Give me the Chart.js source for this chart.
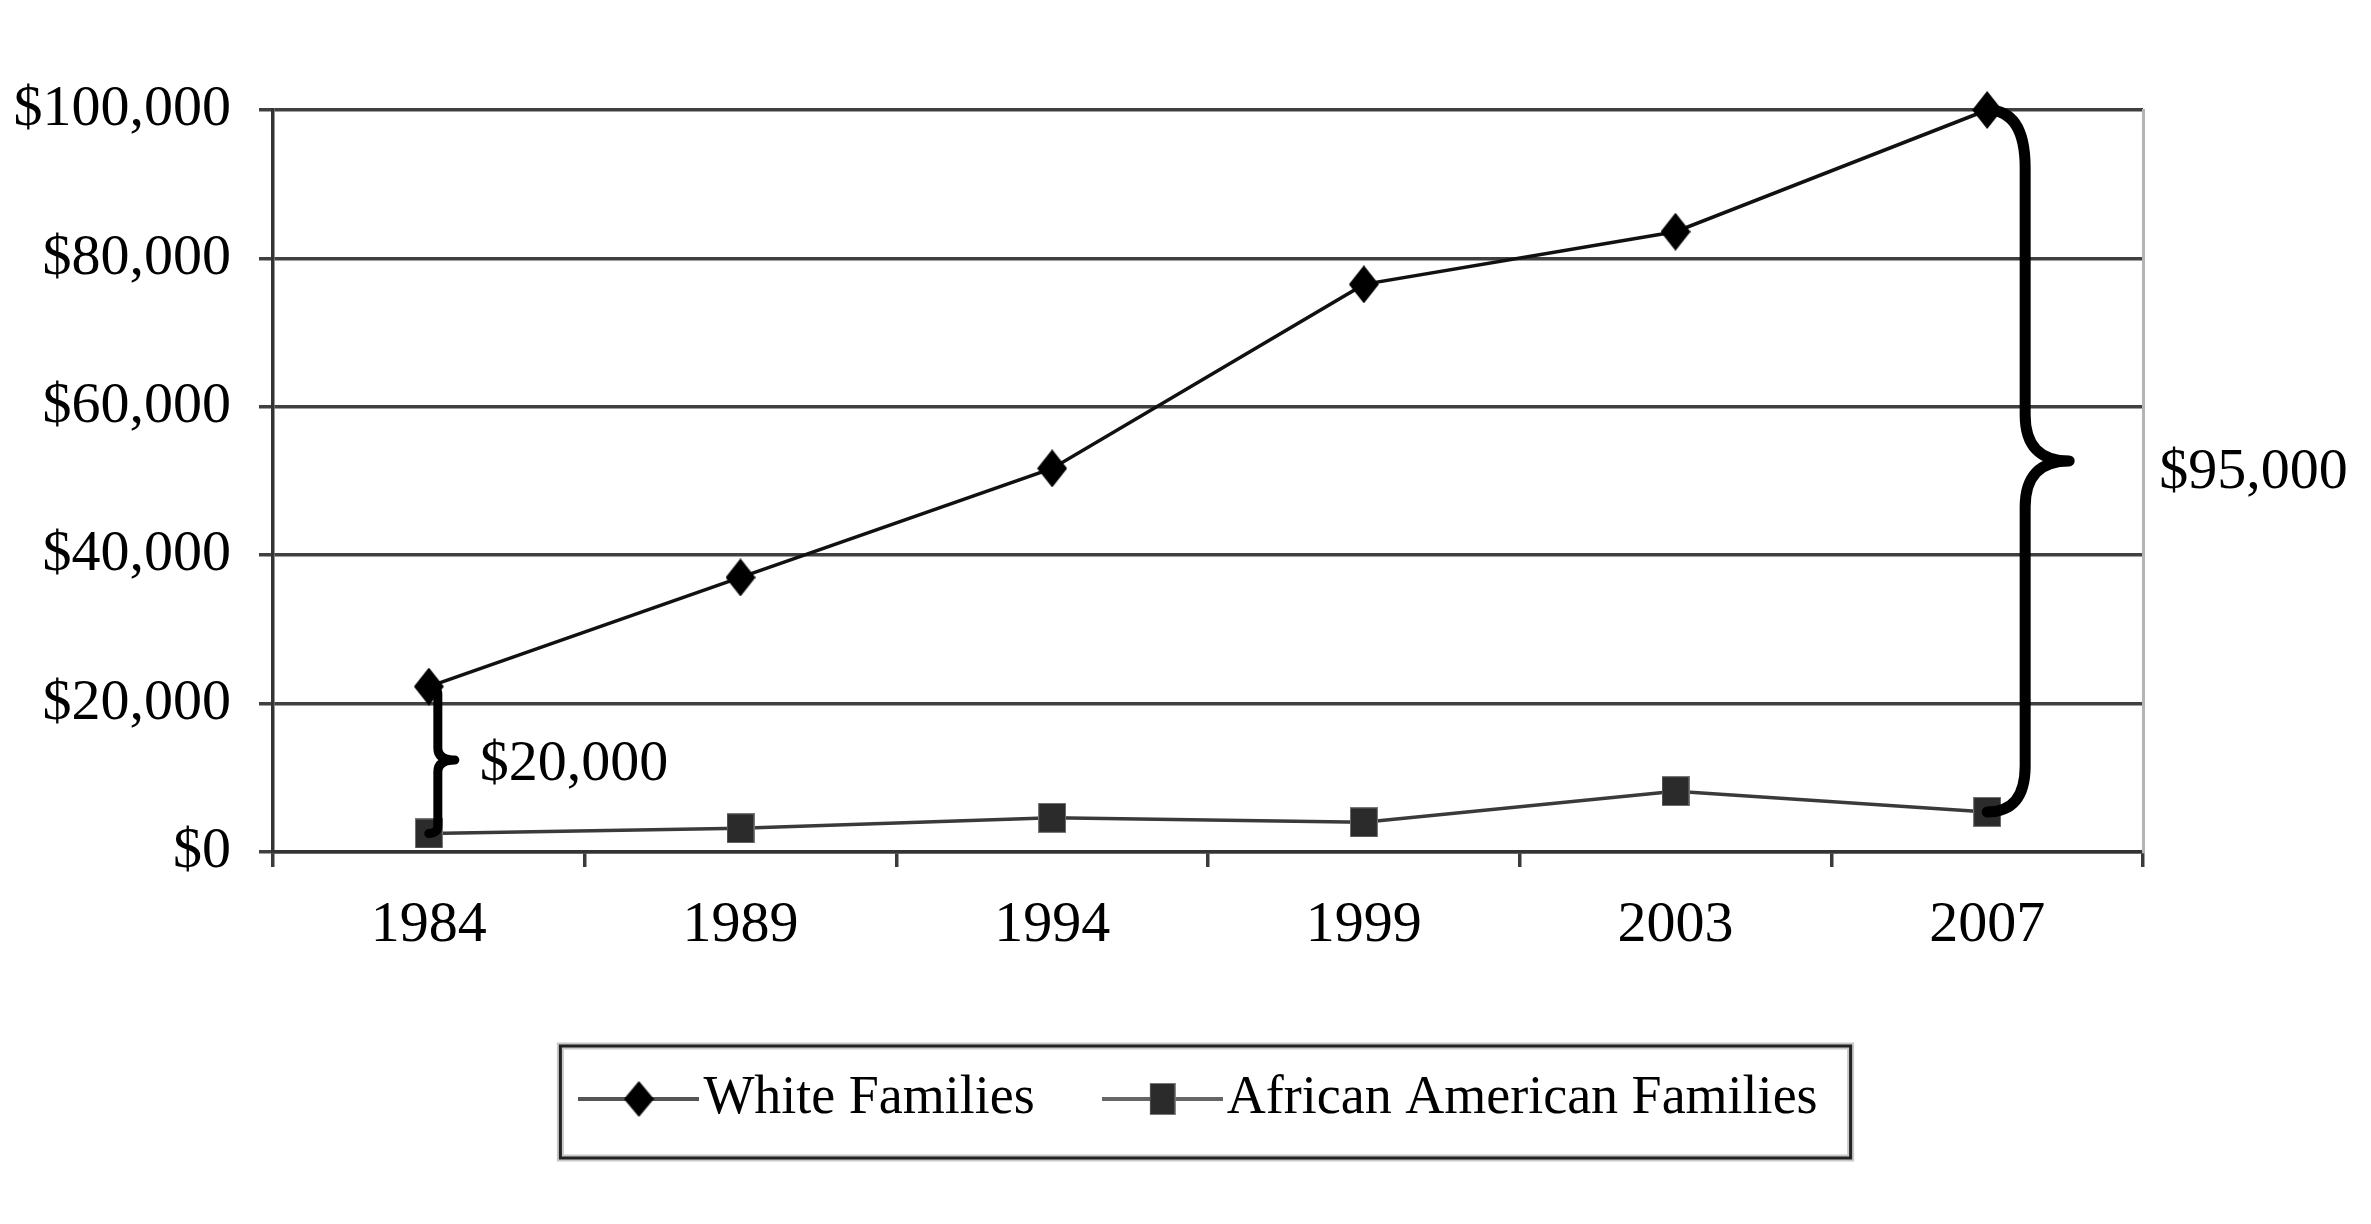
<!DOCTYPE html>
<html><head><meta charset="utf-8">
<script src="https://cdn.jsdelivr.net/npm/chart.js@4.4.1/dist/chart.umd.min.js"></script>
<style>html,body{margin:0;padding:0;background:#fff;} canvas{display:block;}</style>
</head><body>
<canvas id="c" width="2371" height="1224"></canvas>
<script>
// ---- data ----
const years = ['1984', '1989', '1994', '1999', '2003', '2007'];
const whiteFamilies = [22300, 37000, 51700, 76500, 83600, 100000];
const africanAmericanFamilies = [2500, 3200, 4600, 4000, 8200, 5400];
const seriesNames = ['White Families', 'African American Families'];
const yMin = 0, yMax = 100000, yStep = 20000;
const gapLabels = ['$20,000', '$95,000'];

// ---- marker images ----
function diamond(w, h, color) {
  const c = document.createElement('canvas'); c.width = w; c.height = h;
  const g = c.getContext('2d'); g.fillStyle = color;
  g.beginPath(); g.moveTo(w / 2, 0); g.lineTo(w, h / 2); g.lineTo(w / 2, h); g.lineTo(0, h / 2); g.closePath(); g.fill();
  return c;
}
function square(w, h, color) {
  const c = document.createElement('canvas'); c.width = w; c.height = h;
  const g = c.getContext('2d'); g.fillStyle = '#777'; g.fillRect(0, 0, w, h);
  g.fillStyle = color; g.fillRect(1, 1, w - 2, h - 2);
  return c;
}
function legendSym(marker, lineColor) {
  const w = 121, h = 40;
  const c = document.createElement('canvas'); c.width = w; c.height = h;
  const g = c.getContext('2d');
  g.strokeStyle = lineColor; g.lineWidth = 4;
  g.beginPath(); g.moveTo(0, h / 2); g.lineTo(w, h / 2); g.stroke();
  g.drawImage(marker, (w - marker.width) / 2, (h - marker.height) / 2);
  return c;
}
const diamondImg = diamond(30, 38, '#000');
const squareImg = square(28, 30, '#2b2b2b');
const legendImgs = [
  legendSym(diamond(30, 36, '#000'), '#555'),
  legendSym(square(26, 32, '#2b2b2b'), '#666')
];

const FONT = 'Liberation Serif';
Chart.defaults.font.family = FONT;
Chart.defaults.color = '#000';

function brace(ctx, x, yTop, yBot, off, rTop, rMid, tip, rBot, lw) {
  const xv = x + off, mid = (yTop + yBot) / 2;
  ctx.save();
  ctx.strokeStyle = '#000'; ctx.lineWidth = lw; ctx.lineCap = 'round'; ctx.lineJoin = 'round';
  ctx.beginPath();
  ctx.moveTo(x, yTop);
  ctx.quadraticCurveTo(xv, yTop, xv, yTop + rTop);
  ctx.lineTo(xv, mid - rMid);
  ctx.quadraticCurveTo(xv, mid, xv + tip, mid);
  ctx.quadraticCurveTo(xv, mid, xv, mid + rMid);
  ctx.lineTo(xv, yBot - rBot);
  ctx.quadraticCurveTo(xv, yBot, x, yBot);
  ctx.stroke();
  ctx.restore();
  return {tipX: xv + tip, mid};
}

const annotations = {
  id: 'gapBraces',
  afterDatasetsDraw(chart) {
    const ctx = chart.ctx, xs = chart.scales.x, ys = chart.scales.y;
    const last = years.length - 1;
    const a = brace(ctx, xs.getPixelForValue(0), ys.getPixelForValue(whiteFamilies[0]),
      ys.getPixelForValue(africanAmericanFamilies[0]), 9, 8, 12, 17, 8, 9);
    const b = brace(ctx, xs.getPixelForValue(last), ys.getPixelForValue(whiteFamilies[last]),
      ys.getPixelForValue(africanAmericanFamilies[last]), 38, 58, 46, 44, 46, 11);
    ctx.save();
    ctx.fillStyle = '#000';
    ctx.font = '58px "' + FONT + '"';
    ctx.textBaseline = 'middle'; ctx.textAlign = 'left';
    ctx.fillText(gapLabels[0], a.tipX + 25, a.mid + 5);
    ctx.fillText(gapLabels[1], b.tipX + 90, b.mid + 12);
    ctx.restore();
  }
};

const legendFrame = {
  id: 'legendFrame',
  afterDraw(chart) {
    const hb = chart.legend.legendHitBoxes;
    if (!hb || hb.length < 2) return;
    const left = hb[0].left - 41, right = hb[1].left + hb[1].width + 33;
    const cy = hb[0].top + hb[0].height / 2;
    const top = cy - 53, bottom = cy + 59;
    const ctx = chart.ctx;
    ctx.save();
    ctx.strokeStyle = '#c8c8c8'; ctx.lineWidth = 7;
    ctx.strokeRect(left, top, right - left, bottom - top);
    ctx.strokeStyle = '#222'; ctx.lineWidth = 3;
    ctx.strokeRect(left, top, right - left, bottom - top);
    ctx.restore();
  }
};

new Chart(document.getElementById('c'), {
  type: 'line',
  data: {
    labels: years,
    datasets: [
      {
        label: seriesNames[0], data: whiteFamilies,
        borderColor: '#111', borderWidth: 3.5, backgroundColor: '#000',
        pointStyle: diamondImg, pointRadius: 10, clip: false, tension: 0
      },
      {
        label: seriesNames[1], data: africanAmericanFamilies,
        borderColor: '#3a3a3a', borderWidth: 3.5, backgroundColor: '#2b2b2b',
        pointStyle: squareImg, pointRadius: 10, clip: false, tension: 0
      }
    ]
  },
  options: {
    responsive: false, devicePixelRatio: 1, animation: false, events: [],
    layout: { padding: { left: 0, right: -48, top: 110, bottom: 88 } },
    scales: {
      x: {
        type: 'category', offset: true,
        grid: { offset: true, drawOnChartArea: false, drawTicks: true, tickLength: 15, color: '#3a3a3a', lineWidth: 3.5 },
        border: { color: '#333', width: 3.5 },
        ticks: { font: { size: 58 }, padding: 24, color: '#000', maxRotation: 0 },
        afterFit(s) { s.height = 130; }
      },
      y: {
        min: yMin, max: yMax,
        grid: { color: '#404040', lineWidth: 3.5, tickLength: 14 },
        border: { color: '#333', width: 3.5 },
        ticks: { stepSize: yStep, padding: 28, font: { size: 58 }, color: '#000',
          callback: v => '$' + Number(v).toLocaleString('en-US') },
        afterFit(s) { s.width = 273; }
      },
      y2: {
        position: 'right', min: 0, max: 1,
        grid: { display: false, drawTicks: false, tickLength: 0 },
        border: { display: true, color: '#b4b4b4', width: 3 },
        ticks: { display: false },
        afterFit(s) { s.width = 276; }
      }
    },
    plugins: {
      tooltip: { enabled: false },
      legend: {
        position: 'bottom',
        labels: {
          usePointStyle: true, pointStyleWidth: 75, padding: 90,
          font: { size: 54 }, color: '#000',
          generateLabels(chart) {
            const items = Chart.defaults.plugins.legend.labels.generateLabels(chart);
            items.forEach((it, i) => { it.pointStyle = legendImgs[i]; it.lineWidth = 0; });
            return items;
          }
        }
      }
    }
  },
  plugins: [annotations, legendFrame]
});
</script>
</body></html>
